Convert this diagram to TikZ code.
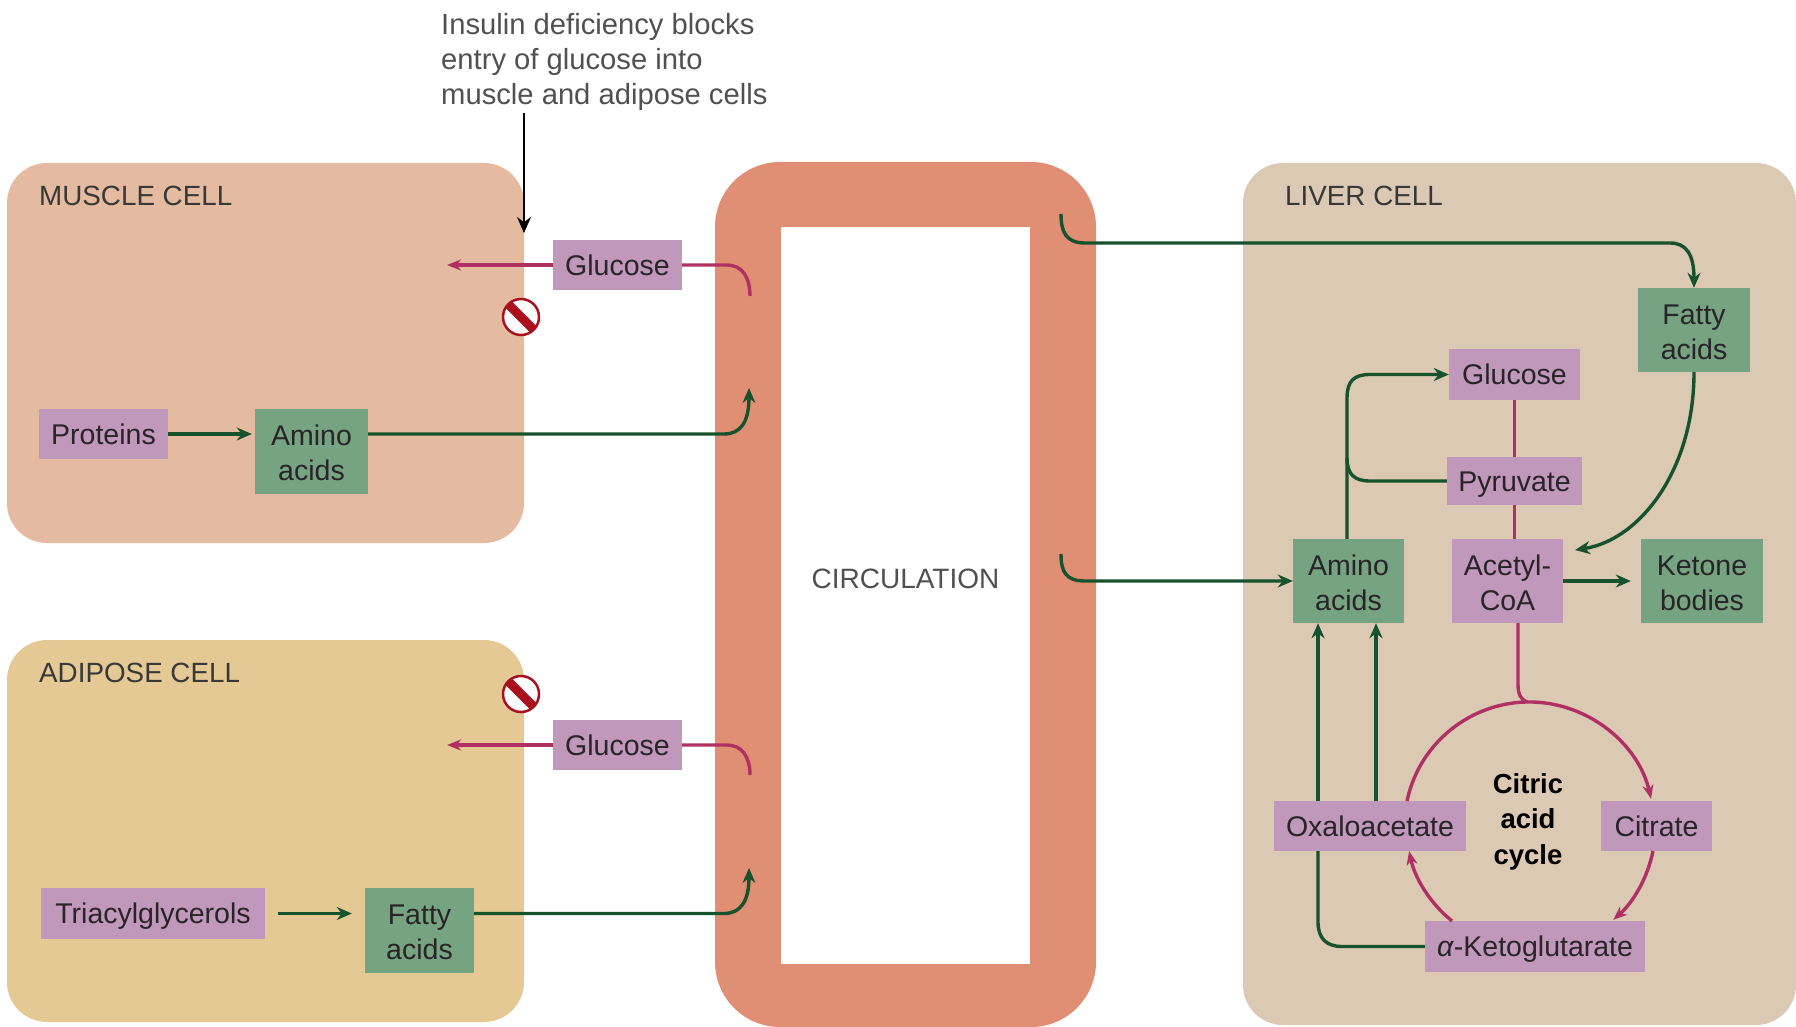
\documentclass[tikz,border=0pt]{standalone}
\usepackage{fontspec}
\setmainfont{Liberation Sans}
\usetikzlibrary{arrows.meta}
\definecolor{musclec}{RGB}{228,186,160}
\definecolor{adipc}{RGB}{229,201,148}
\definecolor{liverc}{RGB}{220,201,180}
\definecolor{bloodc}{RGB}{225,143,116}
\definecolor{purpc}{RGB}{192,152,187}
\definecolor{greenc}{RGB}{118,163,130}
\definecolor{gline}{RGB}{22,82,44}
\definecolor{pline}{RGB}{176,48,100}
\definecolor{txt}{RGB}{40,36,40}
\definecolor{gtxt}{RGB}{80,80,80}
\definecolor{stopc}{RGB}{170,16,30}
\newcommand\topfix{\rule{0pt}{24pt}}
\tikzset{
  x=1pt,y=-1pt,
  cellbox/.style={rounded corners=40pt},
  lab/.style={inner sep=0pt,text=txt,align=center,font=\fontsize{28.5}{35}\selectfont},
  one/.style={text height=20pt,text depth=0pt},
  caplab/.style={inner sep=0pt,anchor=west,text=gtxt!70!black,font=\fontsize{27.8}{33}\selectfont},
  purp/.style={lab,fill=purpc},
  grn/.style={lab,fill=greenc},
  gl/.style={draw=gline,line width=3.4pt,-{Stealth[length=15pt,width=13pt]}},
  glp/.style={draw=gline,line width=3.4pt},
  pl/.style={draw=pline,line width=3.4pt,-{Stealth[length=14pt,width=11pt]}},
  plp/.style={draw=pline,line width=3.4pt},
  stopsign/.style={circle,draw=stopc,line width=2.5pt,fill=white,minimum size=36pt,inner sep=0pt,
    path picture={\draw[stopc,line width=9pt] (path picture bounding box.north west)--(path picture bounding box.south east);}},
}
\begin{document}
\begin{tikzpicture}
\useasboundingbox (0,0) rectangle (1796,1027);
% regions
\fill[musclec,cellbox] (7,163) rectangle (524,543);
\fill[adipc,cellbox] (7,640) rectangle (524,1022);
\fill[liverc,cellbox] (1243,163) rectangle (1796,1025);
\fill[bloodc,rounded corners=65pt] (715,162) rectangle (1096,1027);
\node[fill=white,minimum width=249pt,minimum height=737pt,inner sep=0pt] (circ) at (905.5,595.5) {};
\node[inner sep=0pt,text=gtxt,font=\fontsize{28}{33}\selectfont] (circlab) at (905.5,579) {CIRCULATION};
% captions
\node[caplab] (mlab) at (39,196) {MUSCLE CELL};
\node[caplab] (alab) at (39,673) {ADIPOSE CELL};
\node[caplab] (llab) at (1285,196) {LIVER CELL};
\node[inner sep=0pt,anchor=north west,align=left,text=gtxt,font=\fontsize{29.2}{35}\selectfont] (ins) at (441,13.5)
  {Insulin deficiency blocks\\entry of glucose into\\muscle and adipose cells};
% boxes: left
\node[purp,one,minimum width=129pt,minimum height=50pt] (gl1) at (617.5,265) {Glucose};
\node[purp,one,minimum width=129pt,minimum height=50pt] (prot) at (103.5,434) {Proteins};
\node[grn,minimum width=113pt,minimum height=85pt] (am1) at (311.5,451.5) {\topfix Amino\\acids};
\node[purp,one,minimum width=129pt,minimum height=50pt] (gl2) at (617.5,745) {Glucose};
\node[purp,one,minimum width=224pt,minimum height=51pt] (tri) at (153,913.5) {Triacylglycerols};
\node[grn,minimum width=109pt,minimum height=85pt] (fa1) at (419.5,930.5) {\topfix Fatty\\acids};
% boxes: liver
\node[grn,minimum width=112pt,minimum height=84pt] (fa2) at (1694,330) {\topfix Fatty\\acids};
\node[purp,one,minimum width=131pt,minimum height=51pt] (gl3) at (1514.5,374.5) {Glucose};
\node[purp,one,minimum width=135pt,minimum height=48pt] (pyr) at (1514.5,481) {Pyruvate};
\node[grn,minimum width=111pt,minimum height=84pt] (am2) at (1348.5,581) {\topfix Amino\\acids};
\node[purp,minimum width=111pt,minimum height=84pt] (ac) at (1507.5,581) {\topfix Acetyl-\\CoA};
\node[grn,minimum width=122pt,minimum height=84pt] (ket) at (1702,581) {\topfix Ketone\\bodies};
\node[purp,one,minimum width=192pt,minimum height=50pt] (oxa) at (1370,826) {Oxaloacetate};
\node[purp,one,minimum width=111pt,minimum height=50pt] (cit) at (1656.5,826) {Citrate};
\node[purp,one,minimum width=220pt,minimum height=51pt] (keto) at (1535,946.5) {\textit{α}-Ketoglutarate};
\node[inner sep=0pt,align=center,text=black,font=\fontsize{27.5}{35.5}\bfseries\selectfont] (tca) at (1528,821.5) {Citric\\acid\\cycle};
% stop signs
\node[stopsign] (st1) at (521,317) {};
\node[stopsign] (st2) at (521,694) {};
% free ends
\coordinate (insend) at (524,113);
\coordinate (insarr) at (524,233);
\coordinate (g1in) at (447,265);
\coordinate (g1src) at (750,296);
\coordinate (g2in) at (447,745);
\coordinate (g2src) at (750,775);
\coordinate (a1tip) at (749,388);
\coordinate (f1tip) at (749,868);
\coordinate (top1) at (1061,214);
\coordinate (top2) at (1061,554);
\coordinate (c0) at (1407,801);
\coordinate (c2) at (1653,851);
\coordinate (c4) at (1452,921);
\coordinate (ctop) at (1527,702);
% connectors
\draw[black,line width=1.6pt,-{Stealth[length=16pt,width=14pt]}] (insend) -- (insarr);
\draw[pl] (gl1.west) -- (g1in);
\draw[plp] (gl1.east) -- (727,265) .. controls (742,265) and (750,277) .. (g1src);
\draw[pl] (gl2.west) -- (g2in);
\draw[plp] (gl2.east) -- (727,745) .. controls (742,745) and (750,757) .. (g2src);
\draw[gl,shorten >=3pt] (prot.east) -- (prot.east -| am1.west);
\draw[gl] (am1.east |- prot.east) -- (724,434) .. controls (740,434) and (749,423) .. (a1tip);
\draw[gl,shorten <=13pt,shorten >=13pt] (tri.east) -- (fa1.west |- tri.east);
\draw[gl] (fa1.east |- tri.east) -- (724,913.5) .. controls (740,913.5) and (749,902) .. (f1tip);
\draw[gl] (top1) .. controls (1061,232) and (1066,243) .. (1085,243) -- (1670,243) .. controls (1686,243) and (1694,254) .. (fa2.north);
\draw[gl] (top2) .. controls (1061,572) and (1066,581) .. (1085,581) -- (am2.west);
\draw[gl] (am2.north -| 1347,0) -- (1347,398) .. controls (1347,381) and (1354,374.5) .. (1370,374.5) -- (gl3.west);
\draw[glp] (pyr.west) -- (1370,481) .. controls (1354,481) and (1347,474) .. (1347,458);
\draw[gl] (fa2.south) .. controls (1694,470) and (1640,540) .. (1575,550);
\draw[gl,shorten >=10pt] (ac.east) -- (ket.west);
\draw[gl] (oxa.north -| 1318,0) -- (am2.south -| 1318,0);
\draw[gl] (oxa.north -| 1376,0) -- (am2.south -| 1376,0);
\draw[glp] (keto.west) -- (1342,946.5) .. controls (1326,946.5) and (1318,938) .. (1318,922) -- (oxa.south -| 1318,0);
\draw[plp] (gl3.south) -- (pyr.north);
\draw[plp] (pyr.south) -- (pyr.south |- ac.north);
\draw[plp] (ac.south -| 1518,0) -- (1518,685) .. controls (1518,694) and (1521,700) .. (ctop);
\draw[pl] (c0) arc[start angle=168,end angle=13,radius=125pt];
\draw[pl] (c2) arc[start angle=-11.5,end angle=-48.6,radius=125pt];
\draw[pl] (c4) arc[start angle=231,end angle=192,radius=123pt];
\end{tikzpicture}
\end{document}
